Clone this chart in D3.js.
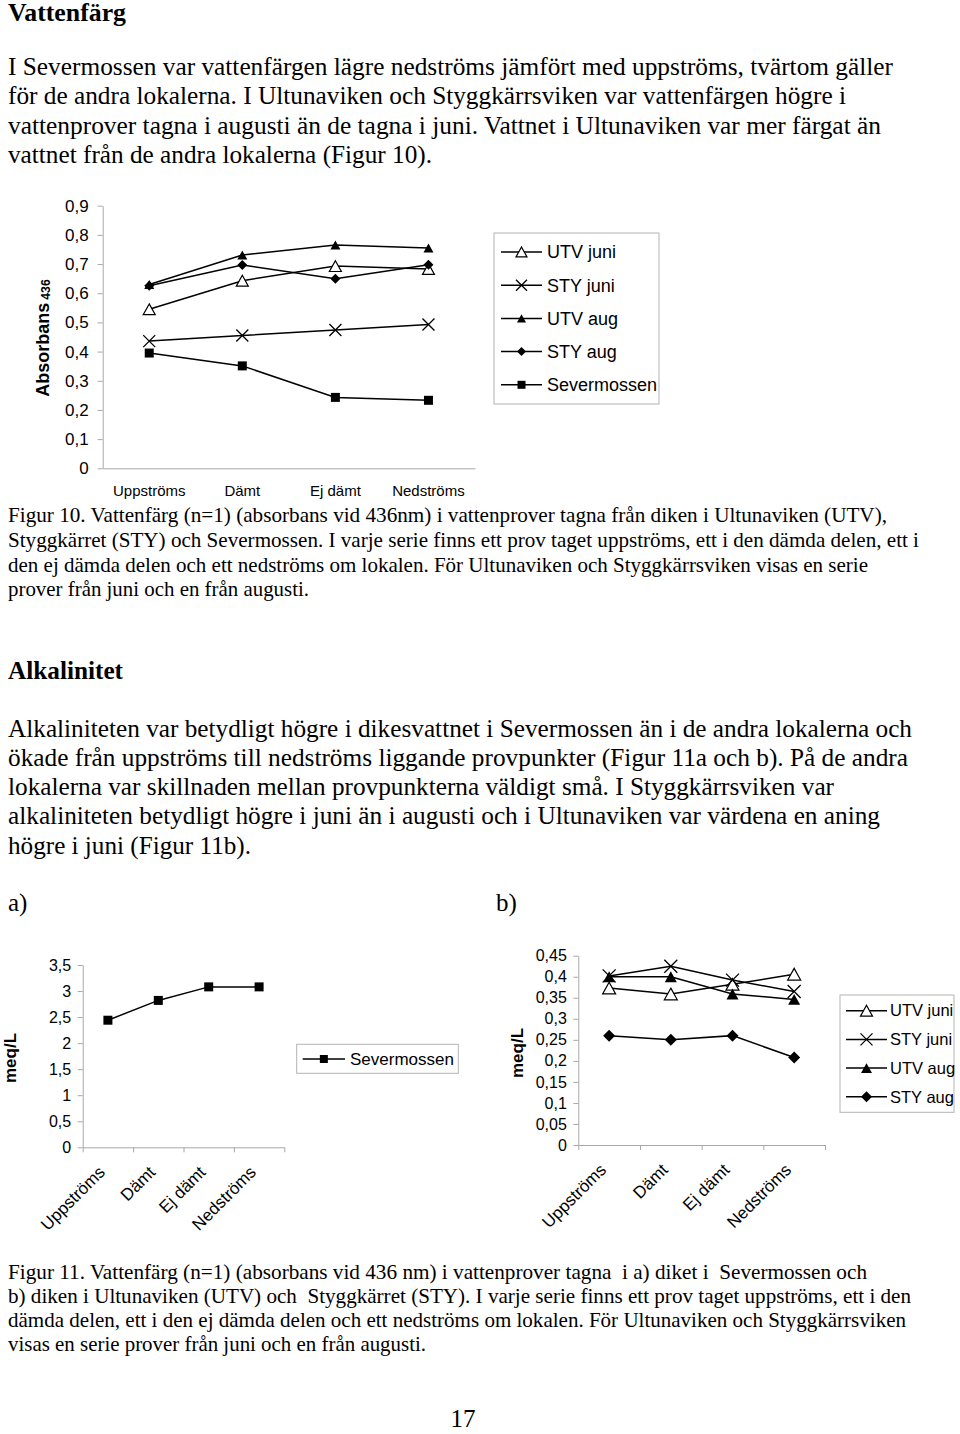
<!DOCTYPE html>
<html>
<head>
<meta charset="utf-8">
<script src="https://cdn.jsdelivr.net/npm/d3@7"></script>
<style>
  body { margin: 0; background: #fff; }
  svg { display: block; }
  .body-text { font-family: "Liberation Serif", "Times New Roman", serif; fill: #000; white-space: pre; }
  .chart-text { font-family: "Liberation Sans", Arial, sans-serif; fill: #000; }
</style>
</head>
<body>
<svg id="page" width="960" height="1434"></svg>
<script>
// ---------------- DATA ----------------
const categories = ["Uppströms", "Dämt", "Ej dämt", "Nedströms"];

// Figur 10 – absorbans 436 nm
const fig10SeriesNames = ["UTV juni", "STY juni", "UTV aug", "STY aug", "Severmossen"];
const fig10UTVjuni     = [0.545, 0.643, 0.693, 0.683];
const fig10STYjuni     = [0.436, 0.455, 0.474, 0.493];
const fig10UTVaug      = [0.630, 0.731, 0.765, 0.755];
const fig10STYaug      = [0.626, 0.697, 0.650, 0.698];
const fig10Severmossen = [0.395, 0.351, 0.243, 0.233];
const fig10YTicks      = [0, 0.1, 0.2, 0.3, 0.4, 0.5, 0.6, 0.7, 0.8, 0.9];

// Figur 11a – alkalinitet Severmossen (meq/L)
const fig11aSeriesNames = ["Severmossen"];
const fig11aSevermossen = [2.44, 2.82, 3.08, 3.08];
const fig11aYTicks      = [0, 0.5, 1, 1.5, 2, 2.5, 3, 3.5];

// Figur 11b – alkalinitet UTV / STY (meq/L)
const fig11bSeriesNames = ["UTV juni", "STY juni", "UTV aug", "STY aug"];
const fig11bUTVjuni = [0.373, 0.359, 0.382, 0.406];
const fig11bSTYjuni = [0.402, 0.425, 0.392, 0.365];
const fig11bUTVaug  = [0.400, 0.400, 0.359, 0.346];
const fig11bSTYaug  = [0.260, 0.250, 0.260, 0.208];
const fig11bYTicks  = [0, 0.05, 0.1, 0.15, 0.2, 0.25, 0.3, 0.35, 0.4, 0.45];

// Page text
const heading1 = "Vattenfärg";
const para1 = [
  "I Severmossen var vattenfärgen lägre nedströms jämfört med uppströms, tvärtom gäller",
  "för de andra lokalerna. I Ultunaviken och Styggkärrsviken var vattenfärgen högre i",
  "vattenprover tagna i augusti än de tagna i juni. Vattnet i Ultunaviken var mer färgat än",
  "vattnet från de andra lokalerna (Figur 10)."
];
const caption10 = [
  "Figur 10. Vattenfärg (n=1) (absorbans vid 436nm) i vattenprover tagna från diken i Ultunaviken (UTV),",
  "Styggkärret (STY) och Severmossen. I varje serie finns ett prov taget uppströms, ett i den dämda delen, ett i",
  "den ej dämda delen och ett nedströms om lokalen. För Ultunaviken och Styggkärrsviken visas en serie",
  "prover från juni och en från augusti."
];
const heading2 = "Alkalinitet";
const para2 = [
  "Alkaliniteten var betydligt högre i dikesvattnet i Severmossen än i de andra lokalerna och",
  "ökade från uppströms till nedströms liggande provpunkter (Figur 11a och b). På de andra",
  "lokalerna var skillnaden mellan provpunkterna väldigt små. I Styggkärrsviken var",
  "alkaliniteten betydligt högre i juni än i augusti och i Ultunaviken var värdena en aning",
  "högre i juni (Figur 11b)."
];
const caption11 = [
  "Figur 11. Vattenfärg (n=1) (absorbans vid 436 nm) i vattenprover tagna  i a) diket i  Severmossen och",
  "b) diken i Ultunaviken (UTV) och  Styggkärret (STY). I varje serie finns ett prov taget uppströms, ett i den",
  "dämda delen, ett i den ej dämda delen och ett nedströms om lokalen. För Ultunaviken och Styggkärrsviken",
  "visas en serie prover från juni och en från augusti."
];
const pageNumber = "17";

// ---------------- LAYOUT / STYLE ----------------
const svg = d3.select("#page");
svg.append("rect").attr("width", 960).attr("height", 1434).attr("fill", "#fff");

const AXIS_COLOR = "#a8a8a8";
const LEGEND_BORDER = "#b4b4b4";
const fmt = d3.formatLocale({decimal: ",", thousands: " ", grouping: [3], currency: ["", ""]}).format("~g");

function textBlock(lines, x, baselines, size, widths, weight) {
  lines.forEach((t, i) => {
    const el = svg.append("text")
      .attr("class", "body-text")
      .attr("x", x).attr("y", baselines[i])
      .attr("font-size", size)
      .attr("font-weight", weight || "normal")
      .attr("xml:space", "preserve")
      .text(t);
    if (widths && widths[i]) el.attr("textLength", widths[i]).attr("lengthAdjust", "spacingAndGlyphs");
  });
}

textBlock([heading1], 8, [21], 25, [118], "bold");
textBlock(para1, 8, [75, 104, 134, 163], 25, [885, 838, 873, 424]);
textBlock(caption10, 8, [522, 547, 572, 596], 21, [879, 911, 860, 301]);
textBlock([heading2], 8, [679], 25, [115], "bold");
textBlock(para2, 8, [737, 766, 795, 824, 854], 25, [904, 900, 826, 872, 243]);
textBlock(["a)"], 8, [911], 25);
textBlock(["b)"], 496, [911], 25);
textBlock(caption11, 8, [1279, 1303, 1327, 1351], 21, [859, 903, 898, 418]);
svg.append("text").attr("class", "body-text").attr("x", 463).attr("y", 1427)
  .attr("font-size", 25).attr("text-anchor", "middle").text(pageNumber);

function markerPath(type, s) {
  const p = d3.path(), r = s / 2;
  if (type === "triOpen" || type === "triFill") {
    const h = s * 0.9;
    p.moveTo(0, -h / 2); p.lineTo(r, h / 2); p.lineTo(-r, h / 2); p.closePath();
  } else if (type === "diamond") {
    p.moveTo(0, -r); p.lineTo(r, 0); p.lineTo(0, r); p.lineTo(-r, 0); p.closePath();
  } else if (type === "square") {
    p.rect(-r, -r, s, s);
  } else if (type === "x") {
    p.moveTo(-r, -r); p.lineTo(r, r); p.moveTo(r, -r); p.lineTo(-r, r);
  }
  return p.toString();
}
function drawMarker(g, type, x, y, s) {
  const m = g.append("path").attr("d", markerPath(type, s))
    .attr("transform", `translate(${x},${y})`);
  if (type === "triOpen") m.attr("fill", "#fff").attr("stroke", "#000").attr("stroke-width", 1.2);
  else if (type === "x") m.attr("fill", "none").attr("stroke", "#000").attr("stroke-width", 1.3);
  else m.attr("fill", "#000").attr("stroke", "none");
}

function lineChart(cfg) {
  const g = svg.append("g");
  const x = d3.scalePoint().domain(categories).range([cfg.x0, cfg.x1]).padding(0.5);
  const y = d3.scaleLinear().domain([0, cfg.yMax]).range([cfg.yBottom, cfg.yTop]);

  const ya = g.append("g").attr("transform", `translate(${cfg.x0},0)`)
    .call(d3.axisLeft(y).tickValues(cfg.yTicks).tickFormat(fmt).tickSize(5).tickSizeOuter(0).tickPadding(cfg.tickPad));
  ya.select(".domain").attr("stroke", AXIS_COLOR);
  ya.selectAll(".tick line").attr("stroke", AXIS_COLOR);
  ya.selectAll(".tick text").attr("class", "chart-text").attr("font-size", cfg.yTickSize)
    .attr("font-family", "Liberation Sans, Arial, sans-serif").attr("fill", "#000");

  const xb = d3.scaleLinear().domain([0, categories.length]).range([cfg.x0, cfg.x1]);
  const xa = g.append("g").attr("transform", `translate(0,${cfg.yBottom})`)
    .call(d3.axisBottom(xb).tickValues(cfg.xTicks ? d3.range(categories.length + 1) : []).tickFormat("")
      .tickSize(cfg.xTicks ? 5 : 0).tickSizeOuter(0));
  xa.select(".domain").attr("stroke", AXIS_COLOR);
  xa.selectAll(".tick line").attr("stroke", AXIS_COLOR);

  categories.forEach(c => {
    if (cfg.rotate) {
      g.append("text").attr("class", "chart-text")
        .attr("transform", `translate(${x(c) - 2},${cfg.yBottom + 26}) rotate(-45)`)
        .attr("text-anchor", "end").attr("font-size", cfg.xLabelSize).text(c);
    } else {
      g.append("text").attr("class", "chart-text")
        .attr("x", x(c)).attr("y", cfg.yBottom + 28)
        .attr("text-anchor", "middle").attr("font-size", cfg.xLabelSize).text(c);
    }
  });

  const yt = g.append("text").attr("class", "chart-text")
    .attr("transform", `translate(${cfg.yTitleX},${cfg.yTitleY}) rotate(-90)`)
    .attr("text-anchor", "middle").attr("font-weight", "bold").attr("font-size", cfg.yTitleSize);
  yt.append("tspan").text(cfg.yTitle);
  if (cfg.yTitleSub) yt.append("tspan").attr("font-size", cfg.yTitleSize * 0.68).attr("dx", 3).attr("dy", 1).text(cfg.yTitleSub);

  const line = d3.line().x((d, i) => x(categories[i])).y(d => y(d));
  cfg.series.forEach(s => {
    g.append("path").attr("d", line(s.values)).attr("fill", "none")
      .attr("stroke", "#000").attr("stroke-width", 1.5);
  });
  cfg.series.forEach(s => {
    s.values.forEach((v, i) => drawMarker(g, s.marker, x(categories[i]), y(v), s.size));
  });

  const L = cfg.legend;
  g.append("rect").attr("x", L.x).attr("y", L.y).attr("width", L.w).attr("height", L.h)
    .attr("fill", "#fff").attr("stroke", LEGEND_BORDER).attr("stroke-width", 1);
  cfg.series.forEach((s, i) => {
    const yy = L.itemY0 + i * L.step;
    g.append("line").attr("x1", L.lineX0).attr("x2", L.lineX1).attr("y1", yy).attr("y2", yy)
      .attr("stroke", "#000").attr("stroke-width", 1.5);
    drawMarker(g, s.marker, (L.lineX0 + L.lineX1) / 2, yy, s.size - 1);
    g.append("text").attr("class", "chart-text").attr("x", L.textX).attr("y", yy)
      .attr("dy", "0.35em").attr("font-size", L.fontSize).text(s.name);
  });
}

lineChart({
  x0: 102.7, x1: 475, yTop: 205.7, yBottom: 468.3, yMax: 0.9, yTicks: fig10YTicks,
  tickPad: 9, yTickSize: 17, xLabelSize: 15, xTicks: false, rotate: false,
  yTitle: "Absorbans", yTitleSub: "436", yTitleX: 49, yTitleY: 338, yTitleSize: 18,
  series: [
    {name: fig10SeriesNames[0], values: fig10UTVjuni, marker: "triOpen", size: 12},
    {name: fig10SeriesNames[1], values: fig10STYjuni, marker: "x", size: 12},
    {name: fig10SeriesNames[2], values: fig10UTVaug, marker: "triFill", size: 10},
    {name: fig10SeriesNames[3], values: fig10STYaug, marker: "diamond", size: 10},
    {name: fig10SeriesNames[4], values: fig10Severmossen, marker: "square", size: 9}
  ],
  legend: {x: 494, y: 233, w: 165, h: 171, itemY0: 252, step: 33.2, lineX0: 501, lineX1: 542, textX: 547, fontSize: 18}
});

lineChart({
  x0: 82.7, x1: 284.3, yTop: 965, yBottom: 1147.3, yMax: 3.5, yTicks: fig11aYTicks,
  tickPad: 6.5, yTickSize: 16, xLabelSize: 17, xTicks: true, rotate: true,
  yTitle: "meq/L", yTitleX: 16, yTitleY: 1058, yTitleSize: 17,
  series: [
    {name: fig11aSeriesNames[0], values: fig11aSevermossen, marker: "square", size: 9}
  ],
  legend: {x: 296.7, y: 1044.3, w: 161.6, h: 29, itemY0: 1059, step: 0, lineX0: 302.7, lineX1: 345, textX: 350, fontSize: 17}
});

lineChart({
  x0: 578.3, x1: 825, yTop: 955.7, yBottom: 1145, yMax: 0.45, yTicks: fig11bYTicks,
  tickPad: 6.5, yTickSize: 16, xLabelSize: 17, xTicks: true, rotate: true,
  yTitle: "meq/L", yTitleX: 523, yTitleY: 1053, yTitleSize: 17,
  series: [
    {name: fig11bSeriesNames[0], values: fig11bUTVjuni, marker: "triOpen", size: 13},
    {name: fig11bSeriesNames[1], values: fig11bSTYjuni, marker: "x", size: 13},
    {name: fig11bSeriesNames[2], values: fig11bUTVaug, marker: "triFill", size: 12},
    {name: fig11bSeriesNames[3], values: fig11bSTYaug, marker: "diamond", size: 12}
  ],
  legend: {x: 840, y: 995, w: 114, h: 117.3, itemY0: 1010.7, step: 28.7, lineX0: 846, lineX1: 887, textX: 890, fontSize: 16.5}
});
</script>
</body>
</html>
